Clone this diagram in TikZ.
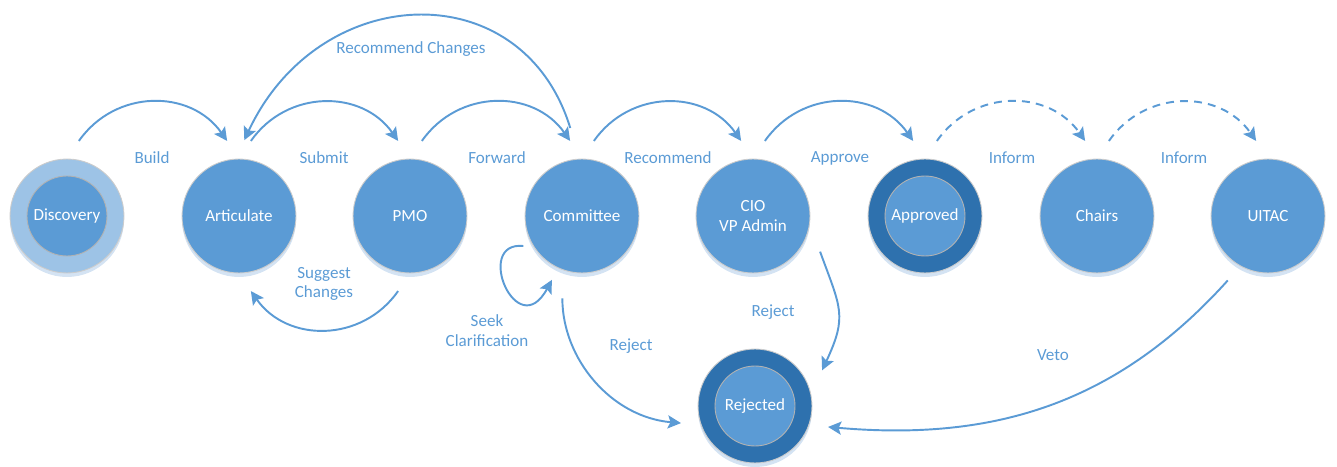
\documentclass[tikz,border=0pt]{standalone}
\usepackage{fontspec}
\setmainfont{Carlito}
\usetikzlibrary{arrows.meta,shadows}
\definecolor{stateblue}{HTML}{5B9BD5}
\definecolor{ringdark}{HTML}{2E71AE}
\definecolor{ringlight}{HTML}{9DC3E6}
\definecolor{glow}{HTML}{D4E3F3}

\begin{document}
\begin{tikzpicture}[x=0.02cm, y=0.02cm,
    state/.style={circle, minimum size=2.28cm, inner sep=0pt, outer sep=0.38cm,
      fill=stateblue, draw=black!20, line width=0.5pt, text=white, align=center,
      font=\fontsize{9.7}{11.3}\selectfont,
      drop shadow={shadow xshift=0pt, shadow yshift=-0.08cm, fill=glow, opacity=1}},
    ringed/.style={state, fill=#1, path picture={
      \filldraw[fill=stateblue, draw=white!70!black, line width=0.5pt]
        (path picture bounding box.center) circle (0.8cm);}},
    flow/.style={-{Stealth[length=7.5pt, width=7.5pt, inset=1.5pt]}, line width=1.1pt, draw=stateblue},
    lbl/.style={text=stateblue, align=center, font=\fontsize{9.7}{11.3}\selectfont}]
    \useasboundingbox (0,0) rectangle (1337,466);

    % States along the main line
    \node[ringed=ringlight] (disc) at (67,250) {Discovery};
    \node[state] (art) at (239,250) {Articulate};
    \node[state] (pmo) at (410,250) {PMO};
    \node[state] (cmt) at (582,250) {Committee};
    \node[state] (cio) at (753,250) {CIO\\VP Admin};
    \node[ringed=ringdark] (appr) at (925,250) {Approved};
    \node[state] (chairs) at (1097,250) {Chairs};
    \node[state] (uitac) at (1268,250) {UITAC};
    \node[ringed=ringdark] (rej) at (755,60) {Rejected};

    % Forward arcs over the top
    \draw[flow] (disc.81) to[out=55, in=125, looseness=1.1] (art.99);
    \draw[flow] (art.81) to[out=55, in=125, looseness=1.1] (pmo.99);
    \draw[flow] (pmo.81) to[out=55, in=125, looseness=1.1] (cmt.99);
    \draw[flow] (cmt.81) to[out=55, in=125, looseness=1.1] (cio.99);
    \draw[flow] (cio.81) to[out=55, in=125, looseness=1.1] (appr.99);
    \draw[flow, dash pattern=on 4.5pt off 3.5pt] (appr.81) to[out=55, in=125, looseness=1.1] (chairs.99);
    \draw[flow, dash pattern=on 4.5pt off 3.5pt] (chairs.81) to[out=55, in=125, looseness=1.1] (uitac.99);

    % Going back
    \draw[flow, shorten <=0.26cm] (cmt.96) to[out=107, in=65, looseness=1.37] (art.86);
    \draw[flow] (pmo.261) to[out=235, in=305, looseness=1.1] (art.279);
    \draw[flow] ([shift={(0.18cm,0.09cm)}]cmt.207) .. controls +(-50,5) and +(-35,-65) .. ([shift={(0.04cm,0.1cm)}]cmt.245);

    % Rejections
    \draw[flow, shorten <=0.18cm] (cmt.255) to[out=270, in=175] (rej.193);
    \draw[flow] (cio.332) to[out=290, in=65, looseness=1.3] (rej.28);
    \draw[flow] (uitac.238) to[out=228, in=355] (rej.344);

    % Labels
    \node[lbl] (lbuild) at (152,308) {Build};
    \node[lbl] (lsubmit) at (324,308) {Submit};
    \node[lbl] (lforward) at (497,308) {Forward};
    \node[lbl] (lrecommend) at (668,308) {Recommend};
    \node[lbl] (lapprove) at (840,308) {Approve};
    \node[lbl] (linform) at (1012,308) {Inform};
    \node[lbl] (linformb) at (1184,308) {Inform};
    \node[lbl] (lrecchg) at (411,417) {Recommend Changes};
    \node[lbl] (lsuggest) at (324,182) {Suggest\\Changes};
    \node[lbl] (lseek) at (487,135) {Seek\\Clarification};
    \node[lbl] (lrejecta) at (631,120) {Reject};
    \node[lbl] (lrejectb) at (773,154) {Reject};
    \node[lbl] (lveto) at (1053,111) {Veto};
\end{tikzpicture}
\end{document}
